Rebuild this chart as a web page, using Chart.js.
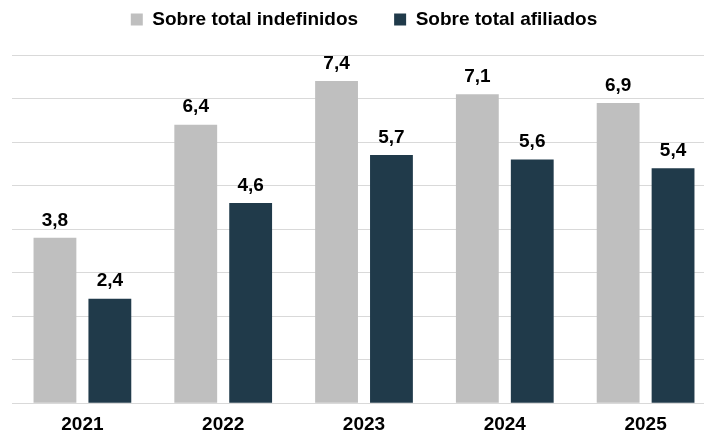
<!DOCTYPE html>
<html>
<head>
<meta charset="utf-8">
<script src="https://cdn.jsdelivr.net/npm/chart.js@4"></script>
<style>
  html, body { margin: 0; padding: 0; background: #fff; overflow: hidden; }
  #wrap { width: 716px; height: 435px; }
</style>
</head>
<body>
<div id="wrap"><canvas id="grafico"></canvas></div>
<script>
const anos = ['2021', '2022', '2023', '2024', '2025'];
const indefinidos = [3.8, 6.4, 7.4, 7.1, 6.9];
const afiliados = [2.4, 4.6, 5.7, 5.6, 5.4];
const nomes = ['Sobre total indefinidos', 'Sobre total afiliados'];

const fonte = "'Liberation Sans', Arial, sans-serif";

// Etiquetas de valor por cima das barras
const etiquetas = {
    id: 'etiquetas',
    afterDatasetsDraw(chart) {
        const ctx = chart.ctx;
        ctx.save();
        ctx.font = 'bold 19px ' + fonte;
        ctx.fillStyle = '#000';
        ctx.textAlign = 'center';
        ctx.textBaseline = 'bottom';
        chart.data.datasets.forEach((ds, i) => {
            chart.getDatasetMeta(i).data.forEach((bar, j) => {
                const txt = ds.data[j].toFixed(1).replace('.', ',');
                ctx.fillText(txt, bar.x, bar.y - 8);
            });
        });
        ctx.restore();
    }
};

// Altura fixa da legenda (o padding grande serve só para afastar os itens)
const alturaLegenda = {
    id: 'alturaLegenda',
    beforeInit(chart) {
        const fitOriginal = chart.legend.fit;
        chart.legend.fit = function () {
            fitOriginal.bind(chart.legend)();
            this.height = 81;
        };
    }
};

new Chart(document.getElementById('grafico'), {
    type: 'bar',
    data: {
        labels: anos,
        datasets: [{
            label: nomes[0],
            data: indefinidos,
            backgroundColor: '#bfbfbf',
            barPercentage: 0.78,
            categoryPercentage: 0.78
        }, {
            label: nomes[1],
            data: afiliados,
            backgroundColor: '#203a4a',
            barPercentage: 0.78,
            categoryPercentage: 0.78
        }]
    },
    options: {
        responsive: true,
        maintainAspectRatio: false,
        animation: false,
        layout: { padding: { left: 12, right: 0, top: -26, bottom: -11 } },
        plugins: {
            legend: {
                position: 'top',
                labels: {
                    boxWidth: 12,
                    boxHeight: 12,
                    padding: 36,
                    color: '#000',
                    font: { family: fonte, size: 19, weight: 'bold' }
                }
            },
            tooltip: { enabled: false }
        },
        scales: {
            x: {
                grid: { display: false, drawTicks: false },
                border: { color: '#d9d9d9', width: 1 },
                ticks: {
                    color: '#000',
                    padding: 10,
                    font: { family: fonte, size: 19, weight: 'bold' }
                }
            },
            y: {
                min: 0,
                max: 8,
                ticks: { stepSize: 1, display: false },
                grid: { color: '#d9d9d9', drawTicks: false },
                border: { display: false }
            }
        }
    },
    plugins: [etiquetas, alturaLegenda]
});
</script>
</body>
</html>
